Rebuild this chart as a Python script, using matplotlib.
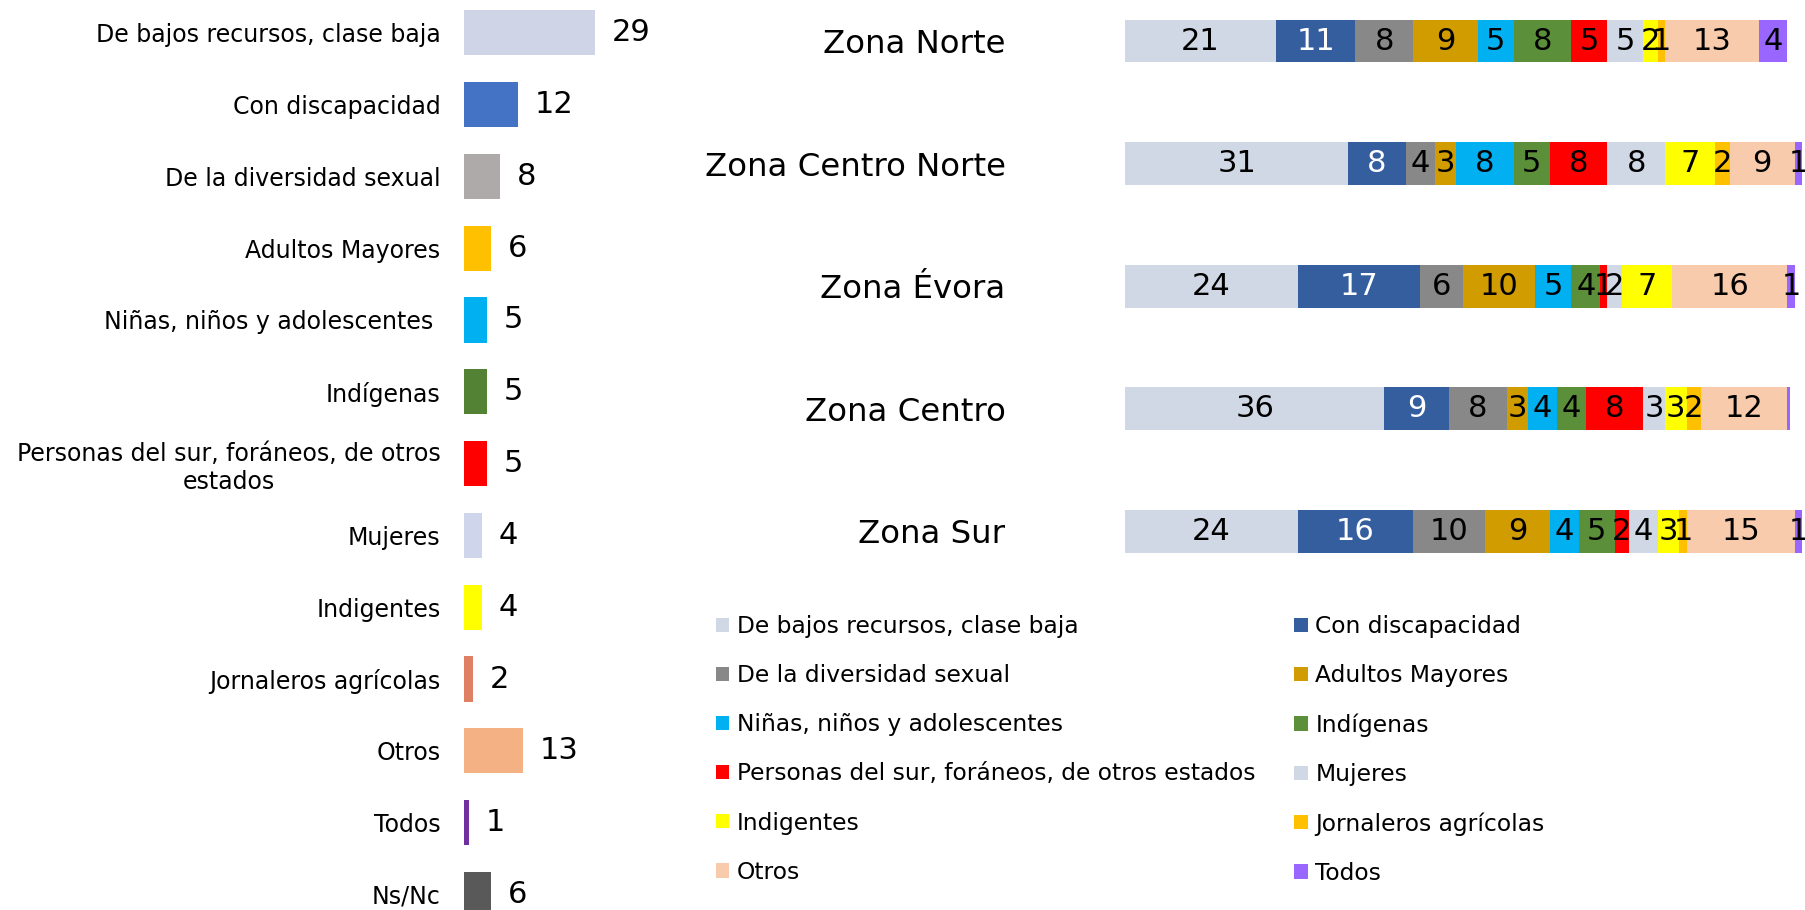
import matplotlib
matplotlib.use("Agg")
import matplotlib.pyplot as plt
from matplotlib.patches import Patch
import numpy as np

plt.rcParams['font.family'] = ['DejaVu Sans']

# left panel: totals
left_cats = ["De bajos recursos, clase baja", "Con discapacidad", "De la diversidad sexual",
             "Adultos Mayores", "Niñas, niños y adolescentes ", "Indígenas",
             "Personas del sur, foráneos, de otros\nestados", "Mujeres", "Indigentes",
             "Jornaleros agrícolas", "Otros", "Todos", "Ns/Nc"]
left_vals = [29, 12, 8, 6, 5, 5, 5, 4, 4, 2, 13, 1, 6]
left_colors = ["#CFD5E6", "#4472C4", "#AEAAAA", "#FFC000", "#00B0F0", "#548235",
               "#FF0000", "#CFD5EA", "#FFFF00", "#DF7F64", "#F4B183", "#7030A0", "#595959"]

# right panel: by zone
zones = ["Zona Norte", "Zona Centro Norte", "Zona Évora", "Zona Centro", "Zona Sur"]
series = ["De bajos recursos, clase baja", "Con discapacidad", "De la diversidad sexual",
          "Adultos Mayores", "Niñas, niños y adolescentes", "Indígenas",
          "Personas del sur, foráneos, de otros estados", "Mujeres", "Indigentes",
          "Jornaleros agrícolas", "Otros", "Todos"]
norte = [21, 11, 8, 9, 5, 8, 5, 5, 2, 1, 13, 4]
centro_norte = [31, 8, 4, 3, 8, 5, 8, 8, 7, 2, 9, 1]
evora = [24, 17, 6, 10, 5, 4, 1, 2, 7, 0, 16, 1]
centro = [36, 9, 8, 3, 4, 4, 8, 3, 3, 2, 12, 0.4]
sur = [24, 16, 10, 9, 4, 5, 2, 4, 3, 1, 15, 1]
zone_vals = np.array([norte, centro_norte, evora, centro, sur])
series_colors = ["#D0D7E5", "#355E9F", "#888888", "#D09C00", "#00B0F0", "#5B8F3A",
                 "#FF0000", "#D0D7E5", "#FFFF00", "#FFC000", "#F8CBAD", "#9966FF"]

W, H = 1806, 910
fig = plt.figure(figsize=(W / 100, H / 100), dpi=100)

# ---- left bars
axl = fig.add_axes([464 / W, 0, 250 / W, 1])
y = np.arange(len(left_cats))
axl.barh(y, left_vals, height=0.63, color=left_colors)
axl.set_xlim(0, 250 / 4.53)
axl.set_ylim((910 - 32.8) / 71.8, -32.8 / 71.8)
axl.set_yticks(y)
axl.set_yticklabels(left_cats, fontsize=17)
for t in axl.get_yticklabels():
    t.set_multialignment('center')
axl.tick_params(axis='y', length=0, pad=17)
axl.set_xticks([])
for s in axl.spines.values():
    s.set_visible(False)
for i, v in enumerate(left_vals):
    axl.annotate(str(v), (v, i), xytext=(12, 0), textcoords='offset points',
                 ha='left', va='center', fontsize=22)

# ---- right stacked bars
top_px, bot_px = 0, 600
axr = fig.add_axes([1125 / W, (H - bot_px) / H, 681 / W, (bot_px - top_px) / H])
yz = np.arange(len(zones))
left = np.zeros(len(zones))
handles = []
for j, name in enumerate(series):
    vals = zone_vals[:, j]
    axr.barh(yz, vals, left=left, height=0.35, color=series_colors[j])
    tc = 'white' if j == 1 else 'black'
    for i, v in enumerate(vals):
        if v >= 0.5:
            axr.text(left[i] + v / 2, yz[i], f"{v:.0f}", ha='center', va='center',
                     fontsize=22, color=tc, clip_on=False)
    left += vals
    handles.append(Patch(facecolor=series_colors[j], label=name))
axr.set_xlim(0, 681 / 7.2)
axr.set_ylim((bot_px - 41) / 122.6, -41 / 122.6)
axr.set_yticks(yz)
axr.set_yticklabels(zones, fontsize=23.3)
axr.tick_params(axis='y', length=0, pad=86)
axr.set_xticks([])
for s in axr.spines.values():
    s.set_visible(False)

# legend filled row by row like the original
order = list(range(0, 12, 2)) + list(range(1, 12, 2))
fig.legend([handles[k] for k in order], [series[k] for k in order], ncol=2,
           loc='upper left', bbox_to_anchor=(716 / W, 1 - 615 / H), frameon=False,
           fontsize=16.8, handlelength=0.56, handleheight=0.56, handletextpad=0.34,
           labelspacing=1.12, columnspacing=1.67, borderaxespad=0, borderpad=0)

fig.savefig("out.png", dpi=100)
